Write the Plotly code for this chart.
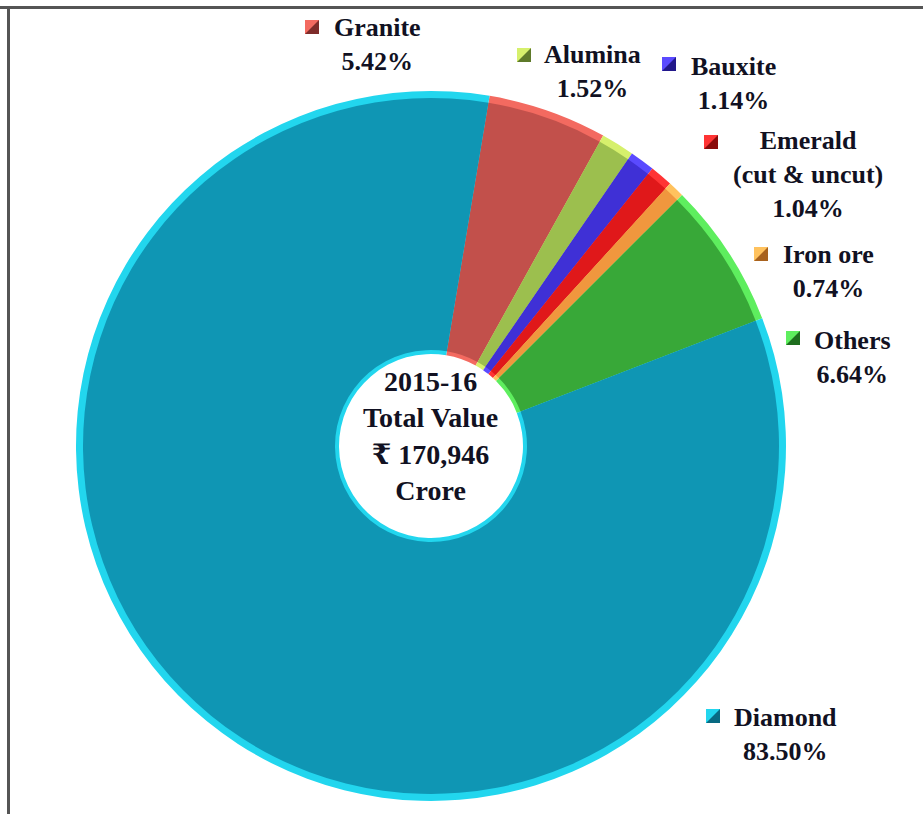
import plotly.graph_objects as go

# ---- data ----
minerals = ["Granite", "Alumina", "Bauxite", "Emerald (cut & uncut)", "Iron ore", "Others", "Diamond"]
label_lines = ["Granite", "Alumina", "Bauxite", "Emerald<br>(cut & uncut)", "Iron ore", "Others", "Diamond"]
shares = [5.42, 1.52, 1.14, 1.04, 0.74, 6.64, 83.50]
center_text = "2015-16<br>Total Value<br>₹ 170,946<br>Crore"

# ---- styles ----
body_colors = ["#C2504B", "#9CBF4E", "#3F30D6", "#E0181A", "#F0973E", "#38A838", "#0F96B4"]
light_colors = ["#F36A60", "#D6F06C", "#5A4AFF", "#FF3434", "#FFC25E", "#5EEE5E", "#22D6EE"]
dark_colors = ["#7E2C2A", "#5E7A2A", "#22188A", "#8A0A0A", "#A8621E", "#1E6E1E", "#086A82"]

W, H = 923, 814
cx, cy, R = 431, 446, 355
rim = 7
inner_rim = 4
hole_r = 92
rotation = 9.5

# label layout (pixel positions of block centres and key squares)
label_pos = [(377, 44), (592, 71), (733, 83), (808, 174), (828, 271), (852, 357), (785, 734)]
key_pos = [(312, 27), (524, 55), (669, 64), (711, 142), (761, 254), (793, 338), (713, 716)]
key_size = 14
FONT = "Liberation Serif, Times New Roman, DejaVu Serif, serif"


def domain(radius):
    return dict(x=[(cx - radius) / W, (cx + radius) / W],
                y=[(H - cy - radius) / H, (H - cy + radius) / H])


fig = go.Figure()
# outer light rim layer
fig.add_trace(go.Pie(
    labels=minerals, values=shares, sort=False, direction="clockwise",
    rotation=rotation, hole=hole_r / R, domain=domain(R),
    marker=dict(colors=light_colors, line=dict(width=0)),
    textinfo="none", hoverinfo="skip", showlegend=False))
# main body layer
r2 = R - rim
fig.add_trace(go.Pie(
    labels=minerals, values=shares, sort=False, direction="clockwise",
    rotation=rotation, hole=(hole_r + inner_rim) / r2, domain=domain(r2),
    marker=dict(colors=body_colors, line=dict(width=0)),
    textinfo="none", hoverinfo="label+percent", showlegend=False))

shapes = []
annotations = []
for i, name in enumerate(minerals):
    lx, ly = label_pos[i]
    annotations.append(dict(
        x=lx, y=ly, xref="x", yref="y", xanchor="center", yanchor="middle",
        text=f"<b>{label_lines[i]}<br>{shares[i]:.2f}%</b>", showarrow=False,
        font=dict(family=FONT, size=26, color="#111122"), align="center"))
    kx, ky = key_pos[i]
    h = key_size / 2
    shapes.append(dict(type="rect", xref="x", yref="y",
                       x0=kx - h, x1=kx + h, y0=ky - h, y1=ky + h,
                       fillcolor=dark_colors[i], line=dict(width=0)))
    shapes.append(dict(type="path", xref="x", yref="y",
                       path=f"M {kx-h},{ky-h} L {kx+h},{ky-h} L {kx-h},{ky+h} Z",
                       fillcolor=light_colors[i], line=dict(width=0)))

annotations.append(dict(
    x=430, y=436, xref="x", yref="y", xanchor="center", yanchor="middle",
    text=f"<b>{center_text}</b>", showarrow=False,
    font=dict(family=FONT, size=28, color="#111122"), align="center"))

# frame (top and left edges) drawn as page overlays
post = (
    "document.body.style.margin='0';"
    "document.body.style.overflow='hidden';"
    "var f=document.createElement('div');"
    "f.style.cssText='position:fixed;left:0;top:6px;width:100%;height:3px;background:#555;z-index:10;pointer-events:none';"
    "document.body.appendChild(f);"
    "var g=document.createElement('div');"
    "g.style.cssText='position:fixed;left:7px;top:6px;width:2.5px;height:100%;background:#555;z-index:10;pointer-events:none';"
    "document.body.appendChild(g);"
)

fig.update_layout(
    width=W, height=H, margin=dict(l=0, r=0, t=0, b=0),
    paper_bgcolor="white", plot_bgcolor="white",
    xaxis=dict(range=[0, W], visible=False, domain=[0, 1], fixedrange=True),
    yaxis=dict(range=[H, 0], visible=False, domain=[0, 1], fixedrange=True),
    shapes=shapes, annotations=annotations, showlegend=False)

fig.write_html("out.html", config={"displayModeBar": False}, post_script=post)
